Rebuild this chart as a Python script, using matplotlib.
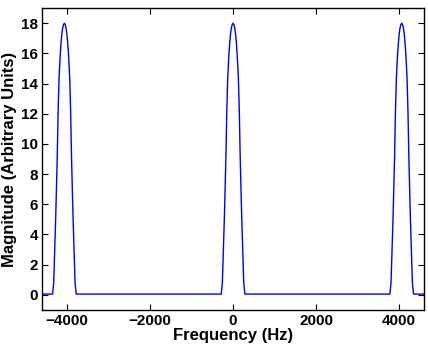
import matplotlib
matplotlib.use("Agg")
import matplotlib.pyplot as plt

# spectrum samples (Hz, arbitrary magnitude)
freq_hz = [
    -4600, -4345,
    -4317, -4268, -4232, -4212, -4188, -4160, -4140, -4120, -4100, -4080,
    -4060,
    -4040, -4020, -4000, -3980, -3960, -3932, -3908, -3888, -3852, -3803,
    -3775,
    -285, -257, -208, -172, -152, -128, -100, -80, -60, -40, -20,
    0,
    20, 40, 60, 80, 100, 128, 152, 172, 208, 257, 285,
    3775,
    3803, 3852, 3888, 3908, 3932, 3960, 3980, 4000, 4020, 4040,
    4060,
    4080, 4100, 4120, 4140, 4160, 4188, 4212, 4232, 4268, 4317,
    4345, 4600,
]
magnitude = [
    0.05, 0.05,
    0.8, 5.2, 9.1, 12.0, 14.4, 15.9, 16.7, 17.3, 17.7, 17.9,
    18.0,
    17.9, 17.7, 17.3, 16.7, 15.9, 14.4, 12.0, 9.1, 5.2, 0.8,
    0.05,
    0.05, 0.8, 5.2, 9.1, 12.0, 14.4, 15.9, 16.7, 17.3, 17.7, 17.9,
    18.0,
    17.9, 17.7, 17.3, 16.7, 15.9, 14.4, 12.0, 9.1, 5.2, 0.8, 0.05,
    0.05,
    0.8, 5.2, 9.1, 12.0, 14.4, 15.9, 16.7, 17.3, 17.7, 17.9,
    18.0,
    17.9, 17.7, 17.3, 16.7, 15.9, 14.4, 12.0, 9.1, 5.2, 0.8,
    0.05, 0.05,
]
x_ticks = [-4000, -2000, 0, 2000, 4000]
y_ticks = [0, 2, 4, 6, 8, 10, 12, 14, 16, 18]

plt.rcParams['font.family'] = ['Liberation Sans', 'DejaVu Sans']
plt.rcParams['font.weight'] = 'bold'

fig = plt.figure(figsize=(4.28, 3.51), dpi=100)
ax = fig.add_axes([0.098, 0.117, 0.893, 0.86])

ax.plot(freq_hz, magnitude, color='#0000ff', lw=1.0)

ax.set_xlim(-4600, 4600)
ax.set_ylim(-1, 19)
ax.set_xticks(x_ticks)
ax.set_yticks(y_ticks)
ax.tick_params(direction='in', length=4, width=0.8, top=True, right=True,
               labelsize=11, pad=3)
for lab in ax.get_xticklabels() + ax.get_yticklabels():
    lab.set_fontweight('bold')
for sp in ax.spines.values():
    sp.set_linewidth(1.0)

ax.set_xlabel('Frequency (Hz)', fontsize=12, fontweight='bold', labelpad=0)
ax.set_ylabel('Magnitude (Arbitrary Units)', fontsize=12, fontweight='bold', labelpad=3)

fig.savefig('out.png', dpi=100)
